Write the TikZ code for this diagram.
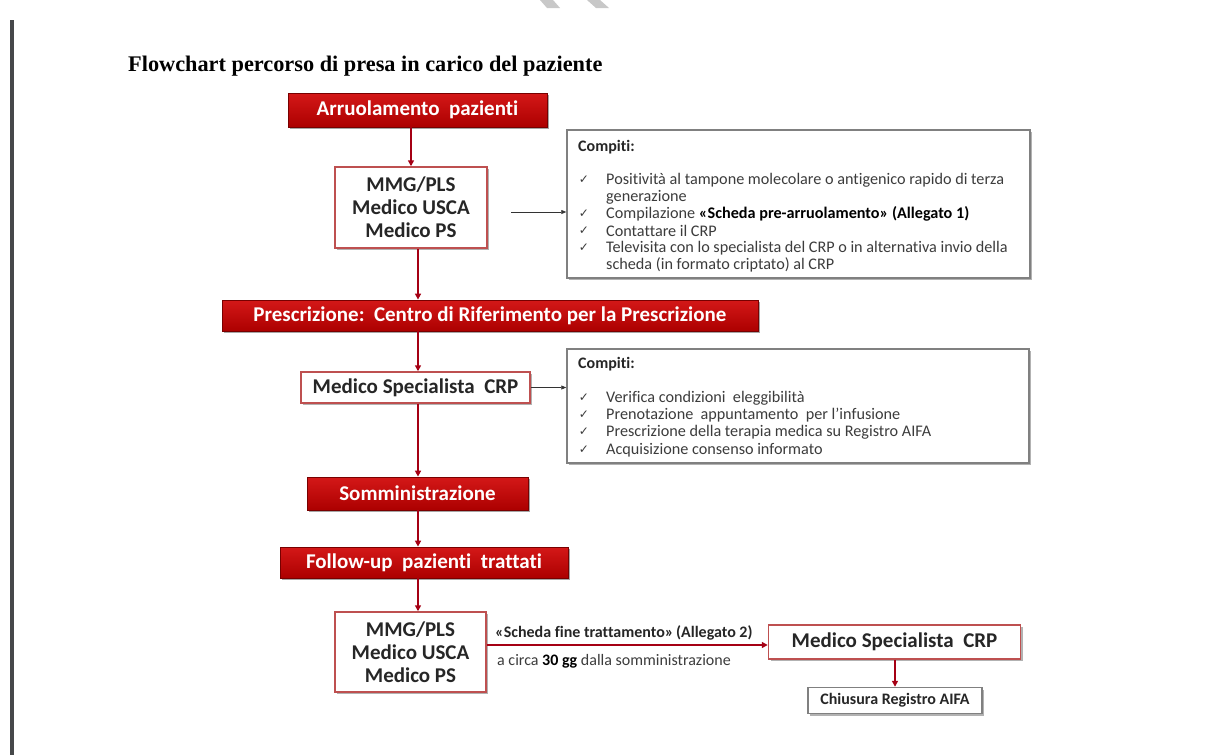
\documentclass[tikz,border=0pt]{standalone}
\usepackage{fontspec}
\setmainfont{Carlito}[Ligatures=NoCommon]
\newfontfamily\titlefont{Liberation Serif}
\newfontfamily\symfont{DejaVu Sans}
\usetikzlibrary{shadows,arrows.meta}
\definecolor{redtop}{RGB}{212,24,24}
\definecolor{redbot}{RGB}{172,0,0}
\definecolor{redborder}{RGB}{120,0,0}
\definecolor{wborder}{RGB}{190,80,80}
\definecolor{tgray}{RGB}{128,128,128}
\definecolor{arrowred}{RGB}{165,0,20}
\definecolor{itemgray}{RGB}{60,60,60}
\definecolor{leftbar}{RGB}{70,72,74}
\definecolor{wmark}{RGB}{200,200,200}
\begin{document}
\begin{tikzpicture}[x=1pt,y=-1pt,
  redbox/.style={draw=redborder, line width=0.8pt, top color=redtop, bottom color=redbot,
    text=white, font=\bfseries\fontsize{21}{24}\selectfont, inner sep=0pt,
    drop shadow={shadow xshift=2pt,shadow yshift=-2pt,fill=black,opacity=0.35}},
  whitebox/.style={draw=wborder, line width=1.5pt, fill=white, text=black!85,
    font=\bfseries\fontsize{21}{23}\selectfont, align=center, inner sep=0pt,
    drop shadow={shadow xshift=2pt,shadow yshift=-2pt,fill=black,opacity=0.3}},
  taskbox/.style={draw=tgray, line width=1.5pt, fill=white, inner sep=0pt,
    drop shadow={shadow xshift=2pt,shadow yshift=-2pt,fill=black,opacity=0.3}},
  redarrow/.style={draw=arrowred, line width=1.6pt, -{Triangle[length=6pt,width=6pt]}},
  blackarrow/.style={draw=black!80, line width=0.7pt, -{Triangle[length=5pt,width=4pt]}},
  item/.style={anchor=west, inner sep=0pt, text=itemgray, font=\fontsize{16.2}{17}\selectfont},
  tick/.style={inner sep=0pt, text=itemgray, font=\symfont\fontsize{12}{12}\selectfont},
  head/.style={anchor=west, inner sep=0pt, text=black!85, font=\bfseries\fontsize{16}{17}\selectfont},
]
\useasboundingbox (0,0) rectangle (1212,755);
\fill[white] (0,0) rectangle (1212,755);
% watermark strokes
\fill[wmark] (540,0) -- (553,0) -- (560,8) -- (547,8) -- cycle;
\fill[wmark] (587,0) -- (600,0) -- (609,8) -- (596,8) -- cycle;
% left bar
\fill[leftbar] (10,20) rectangle (14,755);
% title
\node[anchor=west, inner sep=0pt, font=\titlefont\bfseries\fontsize{22.3}{26}\selectfont] (title) at (128,66) {Flowchart percorso di presa in carico del paziente};

% main column
\node[redbox, minimum width=259pt, minimum height=34pt] (r1) at (417.5,110) {Arruolamento\ \ pazienti};
\node[whitebox, minimum width=152pt, minimum height=81pt] (m1) at (411,207.5) {MMG/PLS\\Medico USCA\\Medico PS};
\node[redbox, minimum width=536pt, minimum height=31pt] (r2) at (490,315.5) {Prescrizione:\ \ Centro di Riferimento per la Prescrizione};
\node[whitebox, minimum width=229pt, minimum height=31pt] (s1) at (415.5,387.5) {Medico Specialista\ \ CRP};
\node[redbox, minimum width=221pt, minimum height=33pt] (r3) at (417.5,493.5) {Somministrazione};
\node[redbox, minimum width=288pt, minimum height=31pt] (r4) at (424,562.5) {Follow-up\ \ pazienti\ \ trattati};
\node[whitebox, minimum width=151pt, minimum height=80pt] (m2) at (410.5,652) {MMG/PLS\\Medico USCA\\Medico PS};
\node[whitebox, minimum width=252pt, minimum height=34pt] (s2) at (894.5,642) {Medico Specialista\ \ CRP};
\node[taskbox, minimum width=174pt, minimum height=26pt, text=black!85, font=\bfseries\fontsize{16}{18}\selectfont] (ch) at (895,700.5) {Chiusura Registro AIFA};

% task boxes
\node[taskbox, minimum width=463pt, minimum height=148pt] (t1) at (798.5,204) {};
\node[head] (t1h) at (578,147) {Compiti:};
\node[tick] (k1a) at (584,180) {✓};
\node[item] (i1a) at (606,180) {Positività al tampone molecolare o antigenico rapido di terza};
\node[item] (i1b) at (606,197) {generazione};
\node[tick] (k1c) at (584,214) {✓};
\node[item] (i1c) at (606,214) {Compilazione \textcolor{black}{\bfseries «Scheda pre-arruolamento» (Allegato 1)}};
\node[tick] (k1d) at (584,231) {✓};
\node[item] (i1d) at (606,231) {Contattare il CRP};
\node[tick] (k1e) at (584,248) {✓};
\node[item] (i1e) at (606,248) {Televisita con lo specialista del CRP o in alternativa invio della};
\node[item] (i1f) at (606,265) {scheda (in formato criptato) al CRP};

\node[taskbox, minimum width=462pt, minimum height=114pt] (t2) at (798,406) {};
\node[head] (t2h) at (578,364) {Compiti:};
\node[tick] (k2a) at (584,398) {✓};
\node[item] (i2a) at (606,398) {Verifica condizioni\ \ eleggibilità};
\node[tick] (k2b) at (584,415) {✓};
\node[item] (i2b) at (606,415) {Prenotazione\ \ appuntamento\ \ per l’infusione};
\node[tick] (k2c) at (584,432) {✓};
\node[item] (i2c) at (606,432) {Prescrizione della terapia medica su Registro AIFA};
\node[tick] (k2d) at (584,450) {✓};
\node[item] (i2d) at (606,450) {Acquisizione consenso informato};

% labels bottom
\node[anchor=west, inner sep=0pt, text=black!85, font=\bfseries\fontsize{16}{17}\selectfont] (l1) at (495,633) {«Scheda fine trattamento»\,(Allegato 2)};
\node[anchor=west, inner sep=0pt, text=itemgray, font=\fontsize{16}{17}\selectfont] (l2) at (497,661) {a circa \textcolor{black}{\bfseries 30 gg} dalla somministrazione};

% connectors
\coordinate (colx) at (418,0);
\coordinate (ly) at (0,645);
\coordinate (a1) at (511,212);
\draw[redarrow] (r1.south -| m1.north) -- (m1.north);
\draw[redarrow] (m1.south -| colx) -- (r2.north -| colx);
\draw[redarrow] (r2.south -| colx) -- (s1.north -| colx);
\draw[redarrow] (s1.south -| colx) -- (r3.north -| colx);
\draw[redarrow] (r3.south -| colx) -- (r4.north -| colx);
\draw[redarrow] (r4.south -| colx) -- (m2.north -| colx);
\draw[redarrow] (m2.east |- ly) -- (s2.west |- ly);
\draw[redarrow] (s2.south -| ch.north) -- (ch.north);
\draw[blackarrow] (a1) -- (t1.west |- a1);
\draw[blackarrow] (s1.east) -- (t2.west |- s1.east);
\end{tikzpicture}
\end{document}
